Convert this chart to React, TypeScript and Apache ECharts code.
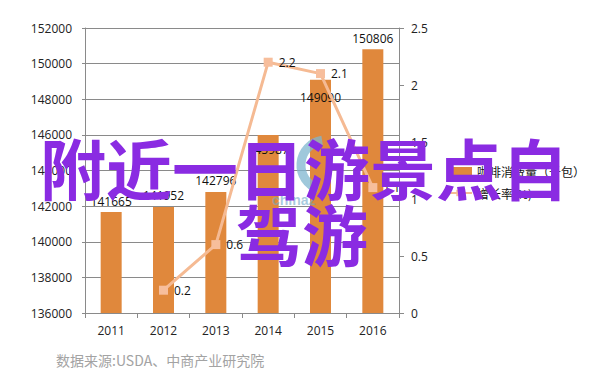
import React, { useEffect, useRef } from "react";
import * as echarts from "echarts";

const years = ["2011", "2012", "2013", "2014", "2015", "2016"];
const consumption = [141665, 141952, 142796, 145987, 149090, 150806];
const growth: (number | null)[] = [null, 0.2, 0.6, 2.2, 2.1, 1.1];
const leftTicks = { min: 136000, max: 152000, interval: 2000 };
const rightTicks = { min: 0, max: 2.5, interval: 0.5 };
const seriesNames = ["咖啡消费量（千包）", "增长率(%)"];
const overlayLines = ["附近一日游景点自", "驾游"];
const sourceText = "数据来源:USDA、中商产业研究院";

export default function App() {
  const ref = useRef<HTMLDivElement>(null);
  useEffect(() => {
    if (!ref.current) return;
    const chart = echarts.init(ref.current, undefined, { renderer: "svg" });
    const axisColor = "#8a8a8a";
    const font = "'Open Sans', 'Noto Sans CJK SC', sans-serif";
    chart.setOption({
      animation: false,
      backgroundColor: "#ffffff",
      textStyle: { fontFamily: font },
      grid: { left: 85, right: 203, top: 28, bottom: 71 },
      legend: {
        orient: "vertical",
        left: 441,
        top: 159,
        itemWidth: 25,
        itemHeight: 8,
        itemGap: 8,
        textStyle: { color: "#111", fontSize: 12, lineHeight: 14, fontFamily: "'Noto Sans CJK SC', sans-serif" },
        data: [
          { name: seriesNames[0], icon: "rect" },
          { name: seriesNames[1] },
        ],
      },
      xAxis: {
        type: "category",
        data: years,
        boundaryGap: true,
        axisLine: { lineStyle: { color: axisColor } },
        axisTick: { show: true, length: 5, lineStyle: { color: axisColor } },
        axisLabel: { color: "#222", fontSize: 12, margin: 11 },
      },
      yAxis: [
        {
          type: "value",
          min: leftTicks.min,
          max: leftTicks.max,
          interval: leftTicks.interval,
          axisLine: { show: true, lineStyle: { color: axisColor } },
          axisTick: { show: true, length: 3, lineStyle: { color: axisColor } },
          axisLabel: { color: "#222", fontSize: 12, margin: 13, formatter: (v: number) => String(v) },
          splitLine: { show: true, lineStyle: { color: axisColor, width: 1 } },
        },
        {
          type: "value",
          min: rightTicks.min,
          max: rightTicks.max,
          interval: rightTicks.interval,
          axisLine: { show: true, lineStyle: { color: axisColor } },
          axisTick: { show: true, length: 5, lineStyle: { color: axisColor } },
          axisLabel: { color: "#222", fontSize: 12, margin: 12, formatter: (v: number) => String(v) },
          splitLine: { show: false },
        },
      ],
      series: [
        {
          name: seriesNames[0],
          type: "bar",
          barWidth: 21,
          itemStyle: { color: "#E0883C" },
          label: { show: true, position: "top", color: "#111", fontSize: 12, distance: 5 },
          data: consumption.map((v, i) => {
            if (i === 3) return { value: v, label: { position: "insideTop", distance: 8 } };
            if (i === 4) return { value: v, label: { position: "insideTop", distance: 12 } };
            return v;
          }),
          z: 2,
        },
        {
          name: seriesNames[1],
          type: "line",
          yAxisIndex: 1,
          symbol: "rect",
          symbolSize: 9,
          lineStyle: { color: "#F5BA93", width: 3 },
          itemStyle: { color: "#F7BE9C" },
          label: { show: true, position: "right", color: "#111", fontSize: 12, distance: 6 },
          data: growth,
          z: 3,
        },
      ],
      graphic: [
        {
          type: "arc",
          shape: { cx: 326, cy: 165, r: 25, startAngle: Math.PI * 0.6, endAngle: Math.PI * 1.45 },
          style: { stroke: "#7fb6cf", lineWidth: 9, fill: "none", opacity: 0.75 },
          z: 50,
        },
        {
          type: "text",
          x: 272,
          y: 200,
          style: { text: "chinaz", fill: "#6fa8c8", fontSize: 14, fontWeight: "bold", opacity: 0.6, textVerticalAlign: "middle" },
          z: 50,
        },
        {
          type: "text",
          x: 304,
          y: 166,
          style: {
            text: overlayLines[0],
            fill: "#8A2BE2",
            fontSize: 66,
            fontWeight: "bold",
            fontFamily: "'Noto Sans CJK SC', sans-serif",
            textAlign: "center",
            textVerticalAlign: "middle",
          },
          z: 100,
        },
        {
          type: "text",
          x: 302,
          y: 232,
          style: {
            text: overlayLines[1],
            fill: "#8A2BE2",
            fontSize: 66,
            fontWeight: "bold",
            fontFamily: "'Noto Sans CJK SC', sans-serif",
            textAlign: "center",
            textVerticalAlign: "middle",
          },
          z: 100,
        },
        {
          type: "text",
          x: 56,
          y: 360,
          style: {
            text: sourceText,
            fill: "#a3a3a3",
            fontSize: 14,
            fontFamily: "'Noto Sans CJK SC', sans-serif",
            textVerticalAlign: "middle",
          },
          z: 10,
        },
      ],
    });
    return () => chart.dispose();
  }, []);
  return (
    <div
      ref={ref}
      style={{ position: "fixed", left: 0, top: 0, width: 602, height: 384 }}
    />
  );
}
